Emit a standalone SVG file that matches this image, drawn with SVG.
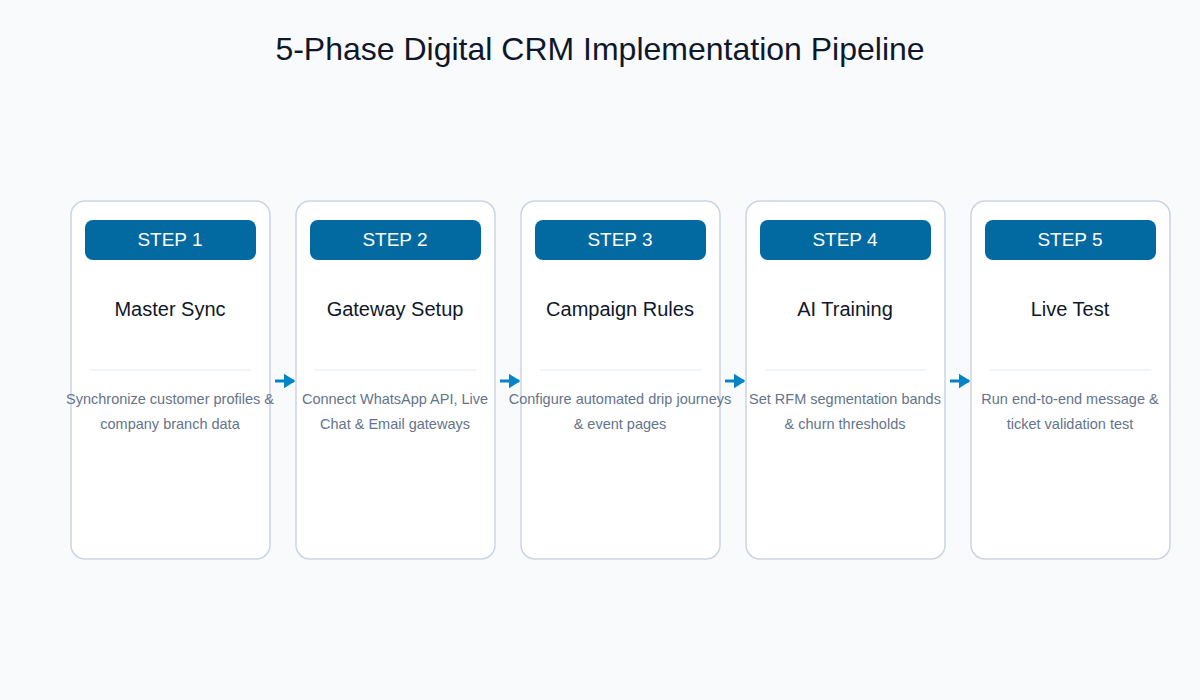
<svg xmlns="http://www.w3.org/2000/svg" width="1200" height="700" viewBox="0 0 1200 700">
<style>
.card{fill:#ffffff;stroke:#cbd5e1;stroke-width:1.5}
.badge{fill:#0369a1}
.bt{font-family:"Liberation Sans",Arial,sans-serif;font-size:19px;fill:#ffffff;text-anchor:middle}
.tt{font-family:"Liberation Sans",Arial,sans-serif;font-size:20px;fill:#0f172a;text-anchor:middle}
.dt{font-family:"Liberation Sans",Arial,sans-serif;font-size:14.5px;fill:#64748b;text-anchor:middle}
.sep{stroke:#e2e8f0;stroke-width:1}
.con{stroke:#0284c7;stroke-width:3;fill:none}
</style>
<defs><marker id="ah" markerWidth="4" markerHeight="5" refX="3.5" refY="2.5" orient="auto" markerUnits="strokeWidth"><path d="M0,0 L4,2.5 L0,5 Z" fill="#0284c7"/></marker></defs>
<rect width="1200" height="700" fill="#f8fafc"/>
<text x="600" y="60" font-family="'Liberation Sans',Arial,sans-serif" font-size="32" fill="#0f172a" text-anchor="middle">5-Phase Digital CRM Implementation Pipeline</text>
<g id="connectors">
<line class="con" x1="275" y1="381" x2="294" y2="381" marker-end="url(#ah)"/>
<line class="con" x1="500" y1="381" x2="519" y2="381" marker-end="url(#ah)"/>
<line class="con" x1="725" y1="381" x2="744" y2="381" marker-end="url(#ah)"/>
<line class="con" x1="950" y1="381" x2="969" y2="381" marker-end="url(#ah)"/>
</g>
<g id="step1"><rect class="card" x="71" y="201" width="199" height="358" rx="14"/><rect class="badge" x="85" y="220" width="171" height="40" rx="8"/><text class="bt" x="170" y="246">STEP 1</text><text class="tt" x="170" y="316">Master Sync</text><line class="sep" x1="90" y1="370" x2="251" y2="370"/><text class="dt" x="170" y="404">Synchronize customer profiles &amp;</text><text class="dt" x="170" y="429">company branch data</text></g>
<g id="step2"><rect class="card" x="296" y="201" width="199" height="358" rx="14"/><rect class="badge" x="310" y="220" width="171" height="40" rx="8"/><text class="bt" x="395" y="246">STEP 2</text><text class="tt" x="395" y="316">Gateway Setup</text><line class="sep" x1="315" y1="370" x2="476" y2="370"/><text class="dt" x="395" y="404">Connect WhatsApp API, Live</text><text class="dt" x="395" y="429">Chat &amp; Email gateways</text></g>
<g id="step3"><rect class="card" x="521" y="201" width="199" height="358" rx="14"/><rect class="badge" x="535" y="220" width="171" height="40" rx="8"/><text class="bt" x="620" y="246">STEP 3</text><text class="tt" x="620" y="316">Campaign Rules</text><line class="sep" x1="540" y1="370" x2="701" y2="370"/><text class="dt" x="620" y="404">Configure automated drip journeys</text><text class="dt" x="620" y="429">&amp; event pages</text></g>
<g id="step4"><rect class="card" x="746" y="201" width="199" height="358" rx="14"/><rect class="badge" x="760" y="220" width="171" height="40" rx="8"/><text class="bt" x="845" y="246">STEP 4</text><text class="tt" x="845" y="316">AI Training</text><line class="sep" x1="765" y1="370" x2="926" y2="370"/><text class="dt" x="845" y="404">Set RFM segmentation bands</text><text class="dt" x="845" y="429">&amp; churn thresholds</text></g>
<g id="step5"><rect class="card" x="971" y="201" width="199" height="358" rx="14"/><rect class="badge" x="985" y="220" width="171" height="40" rx="8"/><text class="bt" x="1070" y="246">STEP 5</text><text class="tt" x="1070" y="316">Live Test</text><line class="sep" x1="990" y1="370" x2="1151" y2="370"/><text class="dt" x="1070" y="404">Run end-to-end message &amp;</text><text class="dt" x="1070" y="429">ticket validation test</text></g>
</svg>
